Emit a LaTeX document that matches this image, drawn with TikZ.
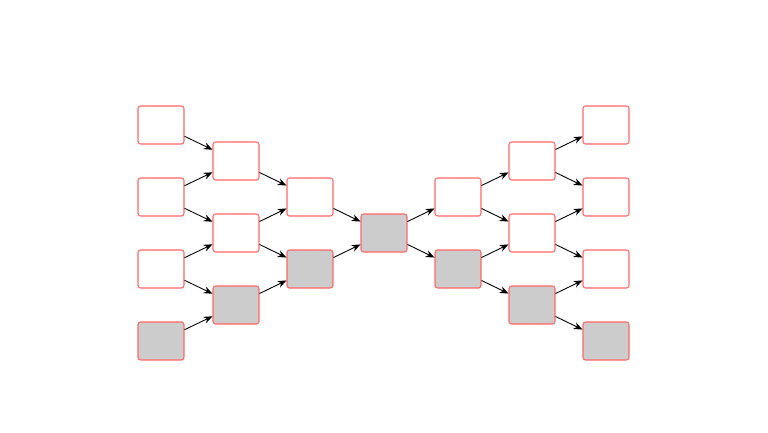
\documentclass[tikz,border=0pt]{standalone}
\usepackage{tikz}
\usetikzlibrary{arrows.meta}

\begin{document}
\begin{tikzpicture}[x=0.02cm, y=-0.02cm, every node/.style={minimum width=0.92cm, minimum height=0.76cm, inner sep=0pt}]
			\useasboundingbox (0,0) rectangle (768,433);
			\tikzset{box/.style={draw=red!60!white, line width=0.6pt, rounded corners=1.5pt, fill=white},
				shaded/.style={box, fill=black!20}}
			% Nodes
			\node[box] (a1) at (161,125) {};
			\node[box] (a2) at (161,197) {};
			\node[box] (a3) at (161,269) {};
			\node[shaded] (a4) at (161,341) {};
			\node[box] (b1) at (236,161) {};
			\node[box] (b2) at (236,233) {};
			\node[shaded] (b3) at (236,305) {};
			\node[box] (c1) at (310,197) {};
			\node[shaded] (c2) at (310,269) {};
			\node[shaded] (d1) at (384,233) {};
			\node[box] (e1) at (458,197) {};
			\node[shaded] (e2) at (458,269) {};
			\node[box] (f1) at (532,161) {};
			\node[box] (f2) at (532,233) {};
			\node[shaded] (f3) at (532,305) {};
			\node[box] (g1) at (606,125) {};
			\node[box] (g2) at (606,197) {};
			\node[box] (g3) at (606,269) {};
			\node[shaded] (g4) at (606,341) {};
			
			% Edges
			\path[-{Stealth[length=5pt, width=4pt]}, black, line width=0.5pt]
				(a1) edge (b1) (a2) edge (b1) (a2) edge (b2)
				(a3) edge (b2) (a3) edge (b3) (a4) edge (b3)
				(b1) edge (c1) (b2) edge (c1) (b2) edge (c2) (b3) edge (c2)
				(c1) edge (d1) (c2) edge (d1)
				(d1) edge (e1) (d1) edge (e2)
				(e1) edge (f1) (e1) edge (f2) (e2) edge (f2) (e2) edge (f3)
				(f1) edge (g1) (f1) edge (g2) (f2) edge (g2)
				(f2) edge (g3) (f3) edge (g3) (f3) edge (g4);
		\end{tikzpicture}
\end{document}
